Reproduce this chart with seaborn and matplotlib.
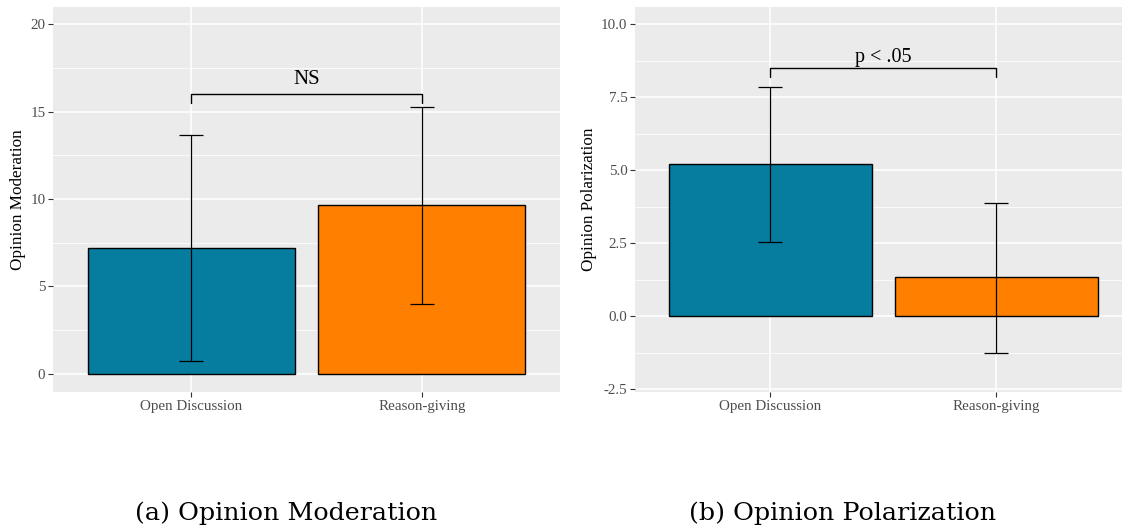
import matplotlib
matplotlib.use("Agg")
import matplotlib.pyplot as plt
import seaborn as sns
import pandas as pd
from matplotlib.ticker import MultipleLocator

conditions = ["Open Discussion", "Reason-giving"]
moderation_mean = [7.2, 9.65]
moderation_low = [0.7, 4.0]
moderation_high = [13.65, 15.3]
polarization_mean = [5.2, 1.33]
polarization_low = [2.55, -1.25]
polarization_high = [7.85, 3.88]
bar_colors = ["#067C9F", "#FF8000"]
annotations = ["NS", "p < .05"]
ylabels = ["Opinion Moderation", "Opinion Polarization"]
captions = ["(a) Opinion Moderation", "(b) Opinion Polarization"]

sns.set_theme(style="darkgrid")
plt.rcParams["font.family"] = ["Liberation Serif", "DejaVu Serif"]

fig = plt.figure(figsize=(11.22, 5.29), dpi=100)
ax1 = fig.add_axes([53/1122, 1-392/529, (560-53)/1122, (392-7)/529])
ax2 = fig.add_axes([635/1122, 1-392/529, (1122-635)/1122, (392-7)/529])

panels = [
    (ax1, moderation_mean, moderation_low, moderation_high, (-1.05, 21.0), 2.5, (15.5, 16.0), [0, 5, 10, 15, 20], "{:.0f}", 7.2, 15),
    (ax2, polarization_mean, polarization_low, polarization_high, (-2.6, 10.6), 1.25, (8.2, 8.5), [-2.5, 0, 2.5, 5.0, 7.5, 10.0], "{:.1f}", 4.3, 14.5),
]

for i, (ax, mean, lo, hi, ylim, minor, brk, ticks, fmt, gap, fs) in enumerate(panels):
    df = pd.DataFrame({"condition": conditions, "value": mean})
    ax.set_facecolor("#EBEBEB")
    sns.barplot(data=df, x="condition", y="value", hue="condition",
                palette=bar_colors, saturation=1, width=0.9, edgecolor="black",
                linewidth=1.0, ax=ax, legend=False, errorbar=None, zorder=2)
    xs = range(len(conditions))
    yerr = [[m - l for m, l in zip(mean, lo)], [h - m for m, h in zip(mean, hi)]]
    ax.errorbar(list(xs), mean, yerr=yerr, fmt="none", ecolor="black",
                elinewidth=0.9, capsize=8.5, capthick=0.9, zorder=3)
    # significance bracket
    ax.plot([0, 0, 1, 1], [brk[0], brk[1], brk[1], brk[0]], color="black", lw=1.0, zorder=4)
    ax.annotate(annotations[i], xy=(0.5, brk[1]), xytext=(0, gap),
                textcoords="offset points", ha="center", va="baseline",
                fontsize=fs, color="black")
    ax.set_ylim(*ylim)
    ax.set_xlim(-0.6, 1.6 if i == 0 else 1.557)
    ax.set_yticks(ticks)
    ax.set_yticklabels([fmt.format(t) for t in ticks])
    ax.yaxis.set_minor_locator(MultipleLocator(minor))
    ax.grid(which="major", color="white", linewidth=1.1)
    ax.grid(which="minor", axis="y", color="white", linewidth=0.55)
    ax.set_axisbelow(True)
    for s in ax.spines.values():
        s.set_visible(False)
    ax.tick_params(axis="both", which="major", length=3.5, width=0.8, color="#333333",
                   labelsize=10.8, labelcolor="#4D4D4D", pad=2, bottom=True, left=True)
    ax.tick_params(axis="y", which="minor", length=0)
    ax.set_xlabel("")
    ax.set_ylabel(ylabels[i], fontsize=12.3, color="black", labelpad=3)

fig.text(286/1122, 1-513/529, captions[0], ha="center", va="center", fontsize=18.3,
         family=["DejaVu Serif"], color="black")
fig.text(843/1122, 1-513/529, captions[1], ha="center", va="center", fontsize=18.3,
         family=["DejaVu Serif"], color="black")

fig.savefig("out.png", dpi=100)
